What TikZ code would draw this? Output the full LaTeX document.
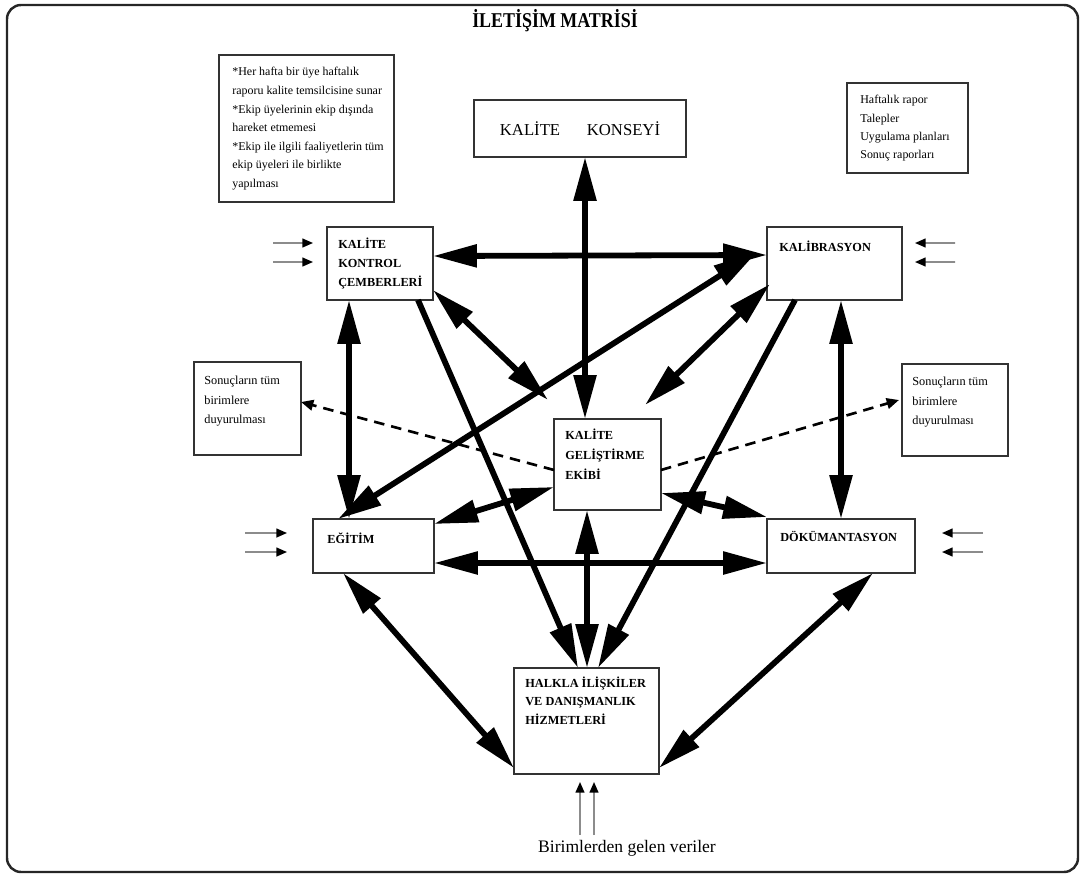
\documentclass[tikz,border=0pt]{standalone}
\usepackage{fontspec}
\setmainfont{Liberation Serif}
\usetikzlibrary{arrows.meta,calc,fit}
\begin{document}
\begin{tikzpicture}[x=0.02cm,y=-0.02cm,
  frame/.style={draw=black!85, line width=1.4pt, rounded corners=8pt},
  box/.style={draw=black!80, line width=1pt, fill=white, inner sep=0pt, outer sep=0pt},
  boxtxt/.style={anchor=north west, inner sep=0pt, align=left, font=\fontsize{7}{10.8}\selectfont\bfseries},
  notetxt/.style={anchor=north west, inner sep=0pt, align=left, font=\fontsize{6.8}{10.6}\selectfont},
  link/.style={line width=3.3pt, {Triangle[length=25pt,width=12.5pt]}-{Triangle[length=25pt,width=12.5pt]}},
  oneway/.style={line width=3.3pt, -{Triangle[length=25pt,width=12.5pt]}},
  inflow/.style={draw=black!45, line width=0.9pt, -{Triangle[length=6pt,width=5pt,color=black]}},
  publish/.style={dash pattern=on 6pt off 4pt, line width=1.5pt, -{Triangle[length=7pt,width=6pt]}}
]
\useasboundingbox (0,0) rectangle (1085,876);
\draw[frame] (7,5) rectangle (1078,872);

% title
\node[font=\fontsize{12}{14}\selectfont\bfseries] (title) at (555,21) {\scalebox{0.85}[1]{İLETİŞİM MATRİSİ}};

% units
\node[box, fit={(474,100) (686,157)}] (konsey) {};
\node[font=\fontsize{9.5}{11}\selectfont] at (konsey.center) {KALİTE\hspace{1.6em}KONSEYİ};

\node[box, fit={(327,227) (433,300)}] (kkc) {};
\node[boxtxt] at ($(kkc.north west)+(11,11)$) {KALİTE\\KONTROL\\ÇEMBERLERİ};

\node[box, fit={(767,227) (902,300)}] (kal) {};
\node[boxtxt] at ($(kal.north west)+(12,14)$) {KALİBRASYON};

\node[box, fit={(554,419) (661,510)}] (kge) {};
\node[boxtxt, font=\fontsize{7}{11.3}\selectfont\bfseries] at ($(kge.north west)+(11,10)$) {KALİTE\\GELİŞTİRME\\EKİBİ};

\node[box, fit={(313,519) (434,573)}] (egt) {};
\node[boxtxt] at ($(egt.north west)+(14,13)$) {EĞİTİM};

\node[box, fit={(767,519) (915,573)}] (dok) {};
\node[boxtxt] at ($(dok.north west)+(13,12)$) {DÖKÜMANTASYON};

\node[box, fit={(514,668) (659,774)}] (hdh) {};
\node[boxtxt, font=\fontsize{7}{10.3}\selectfont\bfseries] at ($(hdh.north west)+(11,9)$) {HALKLA İLİŞKİLER\\VE DANIŞMANLIK\\HİZMETLERİ};

% notes
\node[box, fit={(219,55) (394,202)}] (note1) {};
\node[notetxt] at ($(note1.north west)+(13,12)$) {*Her hafta bir üye haftalık\\raporu kalite temsilcisine sunar\\*Ekip üyelerinin ekip dışında\\hareket etmemesi\\*Ekip ile ilgili faaliyetlerin tüm\\ekip üyeleri ile birlikte\\yapılması};

\node[box, fit={(847,83) (968,173)}] (note2) {};
\node[notetxt, font=\fontsize{6.8}{10.4}\selectfont] at ($(note2.north west)+(13,12)$) {Haftalık rapor\\Talepler\\Uygulama planları\\Sonuç raporları};

\node[box, fit={(194,362) (301,455)}] (res1) {};
\node[notetxt, font=\fontsize{7}{11}\selectfont] at ($(res1.north west)+(10,14)$) {Sonuçların tüm\\birimlere\\duyurulması};

\node[box, fit={(902,364) (1008,456)}] (res2) {};
\node[notetxt, font=\fontsize{7}{11}\selectfont] at ($(res2.north west)+(10,13)$) {Sonuçların tüm\\birimlere\\duyurulması};

% communication links
\draw[link] ($(konsey.south west)+(111,0)$) -- ($(kge.north west)+(31,0)$);
\draw[link] ($(kkc.north east)+(0,29)$) -- ($(kal.north west)+(0,28)$);
\draw[link] ($(kkc.south west)+(22,0)$) -- ($(egt.north west)+(36,0)$);
\draw[link] ($(kal.south west)+(74,0)$) -- ($(dok.north west)+(74,0)$);
\draw[link] ($(egt.south east)+(0,-10)$) -- ($(dok.south west)+(0,-10)$);
\draw[link] ($(egt.north east)+(0,5)$) -- ($(kge.south west)+(0,-23)$);
\draw[link] ($(kge.south east)+(0,-17)$) -- ($(dok.north west)+(0,-2)$);
\draw[link] ($(kkc.south east)+(0,-10)$) -- ($(kge.north west)+(-6,-19)$);
\draw[link] ($(kal.south west)+(3,-16)$) -- ($(kge.north east)+(-16,-14)$);
\draw[oneway] ($(kkc.south west)+(91,0)$) -- ($(hdh.north west)+(64,0)$);
\draw[oneway] ($(kal.south west)+(28,0)$) -- ($(hdh.north west)+(84,0)$);
\draw[link] ($(egt.north west)+(25,0)$) -- ($(kal.north west)+(-10,25)$);
\draw[link] ($(egt.south west)+(30,0)$) -- ($(hdh.south west)+(0,-6)$);
\draw[link] ($(dok.south west)+(106,0)$) -- ($(hdh.south east)+(0,-6)$);
\draw[link] ($(kge.south west)+(33,0)$) -- ($(hdh.north west)+(73,0)$);

% announcement of results
\draw[publish] ($(kge.north west)+(0,51)$) -- ($(res1.north east)+(0,40)$);
\draw[publish] ($(kge.north east)+(0,51)$) -- ($(res2.north west)+(-3,36)$);

% incoming data
\coordinate (kin1) at (273,243);
\coordinate (kin2) at (273,262);
\coordinate (ein1) at (245,533);
\coordinate (ein2) at (245,552);
\coordinate (lin1) at (955,243);
\coordinate (lin2) at (955,262);
\coordinate (din1) at (983,533);
\coordinate (din2) at (983,552);
\draw[inflow] (kin1) -- ($(kkc.north west)+(-14,16)$);
\draw[inflow] (kin2) -- ($(kkc.north west)+(-14,35)$);
\draw[inflow] (ein1) -- ($(egt.north west)+(-26,14)$);
\draw[inflow] (ein2) -- ($(egt.north west)+(-26,33)$);
\draw[inflow] (lin1) -- ($(kal.north east)+(13,16)$);
\draw[inflow] (lin2) -- ($(kal.north east)+(13,35)$);
\draw[inflow] (din1) -- ($(dok.north east)+(27,14)$);
\draw[inflow] (din2) -- ($(dok.north east)+(27,33)$);

\node[font=\fontsize{10}{12}\selectfont] (src) at (627,848) {Birimlerden gelen veriler};
\coordinate (bin1) at (580,835);
\coordinate (bin2) at (594,835);
\draw[inflow] (bin1) -- ($(hdh.south west)+(66,8)$);
\draw[inflow] (bin2) -- ($(hdh.south west)+(80,8)$);
\end{tikzpicture}
\end{document}
